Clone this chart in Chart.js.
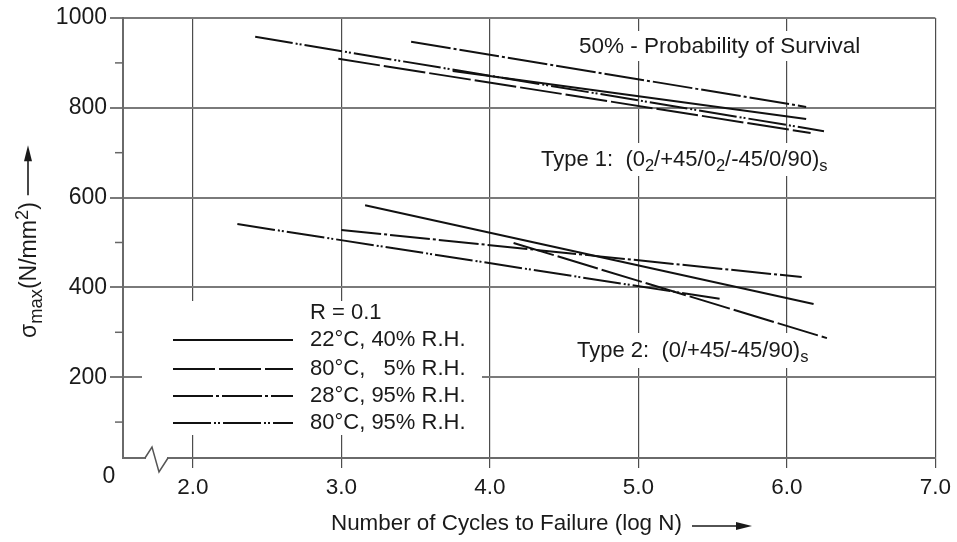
<!DOCTYPE html>
<html>
<head>
<meta charset="utf-8">
<script src="https://cdn.jsdelivr.net/npm/chart.js@4/dist/chart.umd.min.js"></script>
<style>
  body { margin: 0; background: #fff; }
  canvas { display: block; }
</style>
</head>
<body>
<canvas id="snChart" width="957" height="542"></canvas>
<script>
const xTicks = [2, 3, 4, 5, 6, 7];
const yTicks = [200, 400, 600, 800, 1000];
const yMinorTicks = [100, 300, 500, 700, 900];

const conditions = ['22°C, 40% R.H.', '80°C,   5% R.H.', '28°C, 95% R.H.', '80°C, 95% R.H.'];

// each line: [start, end] in log N and sigma max (N/mm2)
const type1LogN   = [[3.75, 6.13], [2.98, 6.16], [3.47, 6.13], [2.42, 6.25]];
const type1Stress = [[882, 775], [909, 744], [947, 802], [958, 748]];
const type2LogN   = [[3.16, 6.18], [4.16, 6.27], [3.00, 6.10], [2.30, 5.56]];
const type2Stress = [[583, 363], [499, 287], [528, 423], [541, 374]];

// line styles per condition
const dashes = [[], [42, 4], [40, 3, 3, 3], [38, 3, 2, 2, 2, 3]];

const FONT = '"Liberation Sans", Arial, Helvetica, sans-serif';
const INK = '#1a1a1a';

function makeSet(xs, ys, i, tag) {
  return {
    label: conditions[i] + tag,
    data: xs.map((x, k) => ({ x: x, y: ys[k] })),
    showLine: true,
    borderColor: '#111',
    borderWidth: 2,
    borderDash: dashes[i],
    pointRadius: 0,
    fill: false
  };
}

const datasets = [];
conditions.forEach((c, i) => {
  datasets.push(makeSet(type1LogN[i], type1Stress[i], i, ' (Type 1)'));
  datasets.push(makeSet(type2LogN[i], type2Stress[i], i, ' (Type 2)'));
});

// draws text pieces, some as sub/superscripts, starting at x
function richText(ctx, parts, x, y, size, small) {
  let cx = x;
  parts.forEach(p => {
    const s = p.sub || p.sup ? size * (small || 0.7) : size;
    ctx.font = s + 'px ' + FONT;
    const dy = p.sub ? size * 0.3 : (p.sup ? -size * 0.3 : 0);
    ctx.fillText(p.t, cx, y + dy);
    cx += ctx.measureText(p.t).width;
  });
  return cx;
}

function arrow(ctx, x1, y, x2) {
  ctx.beginPath();
  ctx.moveTo(x1, y);
  ctx.lineTo(x2 - 10, y);
  ctx.lineWidth = 1.6;
  ctx.strokeStyle = INK;
  ctx.stroke();
  ctx.beginPath();
  ctx.moveTo(x2, y);
  ctx.lineTo(x2 - 16, y - 4);
  ctx.lineTo(x2 - 16, y + 4);
  ctx.closePath();
  ctx.fillStyle = INK;
  ctx.fill();
}

const decorations = {
  id: 'decorations',
  beforeDatasetsDraw(chart) {
    const ctx = chart.ctx;
    const xs = chart.scales.x, ys = chart.scales.y;
    ctx.save();
    // text boxes on top of the grid
    ctx.fillStyle = '#fff';
    ctx.fillRect(574, 31, 300, 30);
    ctx.fillRect(536, 143, 314, 33);
    ctx.fillRect(573, 333, 246, 35);
    ctx.fillStyle = INK;
    ctx.textBaseline = 'middle';
    ctx.textAlign = 'left';
    ctx.font = '22.5px ' + FONT;
    ctx.fillText('50% - Probability of Survival', 579, 47);
    richText(ctx, [{ t: 'Type 1:  (0' }, { t: '2', sub: true }, { t: '/+45/0' }, { t: '2', sub: true },
      { t: '/-45/0/90)' }, { t: 's', sub: true }], 541, 160, 22, 0.75);
    richText(ctx, [{ t: 'Type 2:  (0/+45/-45/90)' }, { t: 's', sub: true }], 577, 351, 22, 0.75);

    // legend box
    ctx.fillStyle = '#fff';
    ctx.fillRect(142, 301, 340, 134);
    ctx.fillStyle = INK;
    ctx.font = '22px ' + FONT;
    ctx.fillText('R = 0.1', 310, 313);
    const rows = [340, 369, 396, 423];
    conditions.forEach((c, i) => {
      ctx.beginPath();
      ctx.setLineDash(dashes[i]);
      ctx.moveTo(173, rows[i]);
      ctx.lineTo(293, rows[i]);
      ctx.strokeStyle = '#111';
      ctx.lineWidth = 2;
      ctx.stroke();
      ctx.setLineDash([]);
      ctx.fillText(c, 310, rows[i]);
    });

    // minor ticks on the stress axis
    ctx.strokeStyle = '#666';
    ctx.lineWidth = 1.5;
    yMinorTicks.forEach(v => {
      const py = ys.getPixelForValue(v);
      ctx.beginPath();
      ctx.moveTo(115, py);
      ctx.lineTo(xs.left, py);
      ctx.stroke();
    });
    ctx.restore();
  },
  afterDraw(chart) {
    const ctx = chart.ctx;
    const area = chart.chartArea;
    ctx.save();
    // axis break on the cycles axis
    ctx.fillStyle = '#fff';
    ctx.fillRect(146, area.bottom - 3, 21, 6);
    ctx.beginPath();
    ctx.moveTo(145, area.bottom);
    ctx.lineTo(152, area.bottom - 11);
    ctx.lineTo(159, area.bottom + 14);
    ctx.lineTo(168, area.bottom);
    ctx.strokeStyle = '#555';
    ctx.lineWidth = 1.5;
    ctx.stroke();

    ctx.fillStyle = INK;
    ctx.font = '23px ' + FONT;
    ctx.textBaseline = 'middle';
    ctx.textAlign = 'center';
    ctx.fillText('0', 109, 477);

    // x title
    ctx.textAlign = 'left';
    ctx.font = '22.4px ' + FONT;
    ctx.fillText('Number of Cycles to Failure (log N)', 331, 524);
    arrow(ctx, 692, 526, 752);

    // y title
    ctx.translate(30, 338);
    ctx.rotate(-Math.PI / 2);
    const end = richText(ctx, [{ t: 'σ' }, { t: 'max', sub: true }, { t: '(N/mm' }, { t: '2', sup: true }, { t: ')' }], 0, 0, 23, 0.8);
    arrow(ctx, end + 7, -2, end + 57);
    ctx.restore();
  }
};

new Chart(document.getElementById('snChart'), {
  type: 'scatter',
  data: { datasets: datasets },
  plugins: [decorations],
  options: {
    responsive: false,
    animation: false,
    devicePixelRatio: 1,
    layout: { padding: { left: 0, right: 20, top: 18, bottom: 0 } },
    plugins: {
      legend: { display: false },
      tooltip: { enabled: false }
    },
    scales: {
      x: {
        type: 'linear',
        min: 1.53,
        max: 7,
        afterBuildTicks: s => { s.ticks = xTicks.map(v => ({ value: v })); },
        afterFit: s => { s.height = 84; },
        ticks: {
          callback: v => Number(v).toFixed(1),
          font: { family: FONT, size: 22.5 },
          color: INK,
          padding: 6,
          maxRotation: 0
        },
        grid: { color: '#4d4d4d', lineWidth: 1.2, tickLength: 10 },
        border: { display: true, color: '#6a6a6a', width: 2 }
      },
      y: {
        min: 20,
        max: 1000,
        afterBuildTicks: s => { s.ticks = yTicks.map(v => ({ value: v })); },
        afterFit: s => { s.width = 123; },
        ticks: {
          callback: v => String(v),
          font: { family: FONT, size: 23 },
          color: INK,
          padding: 3
        },
        grid: { color: '#7a7a7a', lineWidth: 2, tickLength: 13 },
        border: { display: true, color: '#6a6a6a', width: 2 }
      }
    }
  }
});
</script>
</body>
</html>
